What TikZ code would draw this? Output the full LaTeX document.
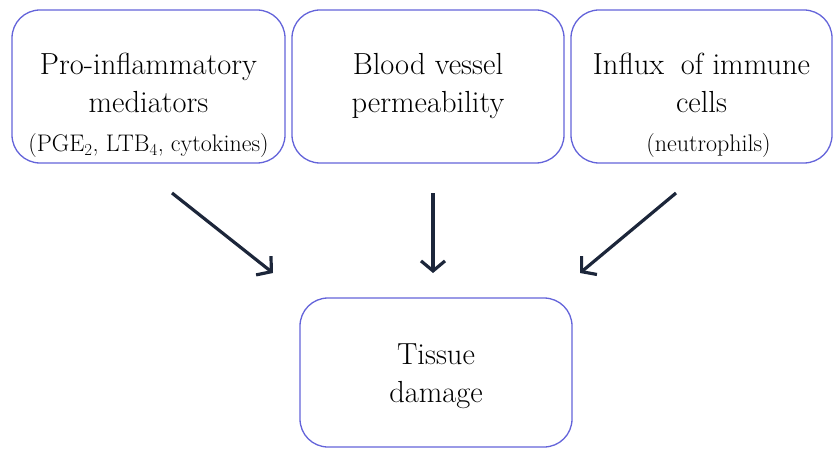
\documentclass[tikz,border=0pt]{standalone}
\usepackage{fontspec}
\usepackage{tikz}
\usetikzlibrary{arrows.meta,positioning}
\usepackage{xcolor}
\definecolor{boxblue}{RGB}{100,100,218}
\definecolor{arrownavy}{RGB}{28,38,58}
\tikzstyle{arrow} = [line width=3.2pt,-{Straight Barb[length=10pt,width=24pt,line width=3.2pt]},color=arrownavy]
\tikzstyle{effectbox} = [rectangle, rounded corners=28pt, draw=boxblue, line width=1.3pt, fill=white, inner sep=0pt]
\tikzstyle{boxtext} = [align=center, anchor=north, inner sep=0pt, font=\fontsize{30.5}{38}\selectfont]
\tikzstyle{subtext} = [anchor=base, inner sep=0pt, font=\fontsize{24}{28}\selectfont]

\begin{document}
\begin{tikzpicture}[x=1pt,y=-1pt]
\useasboundingbox (0,0) rectangle (834,449);

% Causes
\node[effectbox, minimum width=273pt, minimum height=153pt] (infl) at (148.5,86.5) {};
\node[effectbox, minimum width=272pt, minimum height=153pt] (perm) at (428,86.5) {};
\node[effectbox, minimum width=261pt, minimum height=153pt] (cells) at (701.5,86.5) {};

\node[boxtext] (infltxt) at ([yshift=-44pt]infl.north) {Pro-inflammatory\\mediators};
\node[subtext] (inflsub) at (148.5,152) {(PGE\textsubscript{2}, LTB\textsubscript{4}, cytokines)};
\node[boxtext] (permtxt) at ([yshift=-44pt]perm.north) {Blood vessel\\permeability};
\node[boxtext] (cellstxt) at ([yshift=-44pt]cells.north) {Influx\hspace{0.25em} of immune\\cells};
\node[subtext] (cellssub) at (708.5,152) {(neutrophils)};

% Outcome
\node[effectbox, minimum width=272pt, minimum height=149pt] (damage) at (436,372.5) {};
\node[boxtext] (damagetxt) at ([yshift=-46pt]damage.north) {Tissue\\damage};

% Arrows
\coordinate (from1) at (172,193);
\coordinate (to1) at (273,273);
\coordinate (from2) at (433,193);
\coordinate (to2) at (433,273);
\coordinate (from3) at (676,193);
\coordinate (to3) at (580,273);
\draw[arrow] (from1) -- (to1);
\draw[arrow] (from2) -- (to2);
\draw[arrow] (from3) -- (to3);
\end{tikzpicture}
\end{document}
